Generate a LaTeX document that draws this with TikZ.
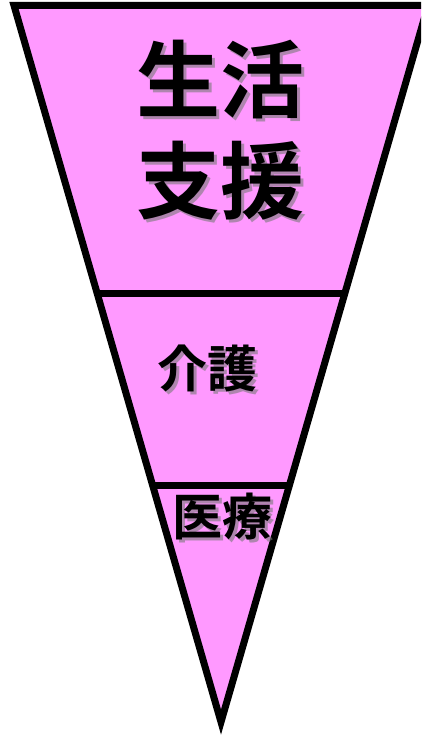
\documentclass[tikz,border=0pt]{standalone}
\usepackage{fontspec}
\newfontfamily\cjk{Noto Sans CJK JP Bold}
\definecolor{pinkfill}{RGB}{255,153,255}
\definecolor{shadowgray}{RGB}{120,120,120}
\tikzset{
  tri/.style={draw=black, line width=7pt, fill=pinkfill, line join=miter},
  divider/.style={draw=black, line width=7pt},
  bigtxt/.style={font=\cjk\fontsize{84}{84}\selectfont, inner sep=0pt},
  midtxt/.style={font=\cjk\fontsize{50}{50}\selectfont, inner sep=0pt},
  shadowtxt/.style={text=shadowgray, opacity=0.6},
}
\begin{document}
\begin{tikzpicture}[x=1pt,y=-1pt]
\useasboundingbox (0,0) rectangle (421,738);
\clip (0,0) rectangle (421,738);
\coordinate (tl) at (14,5.5);
\coordinate (tr) at (428,5.5);
\coordinate (apex) at (221,722);
\draw[tri] (tl) -- (tr) -- (apex) -- cycle;
% dividers
\coordinate (d1l) at (97,293.5);
\coordinate (d1r) at (345,293.5);
\coordinate (d2l) at (153,485);
\coordinate (d2r) at (290,485);
\draw[divider] (d1l) -- (d1r);
\draw[divider] (d2l) -- (d2r);
% texts with shadows
\node[bigtxt, shadowtxt] at (223,83) {生活};
\node[bigtxt] (t1) at (220,80) {生活};
\node[bigtxt, shadowtxt] at (223,184) {支援};
\node[bigtxt] (t2) at (220,181) {支援};
\node[midtxt, shadowtxt] at (210,371) {介護};
\node[midtxt] (t3) at (207,368) {介護};
\node[midtxt, shadowtxt] at (225,520) {医療};
\node[midtxt] (t4) at (222,517) {医療};
\end{tikzpicture}
\end{document}
